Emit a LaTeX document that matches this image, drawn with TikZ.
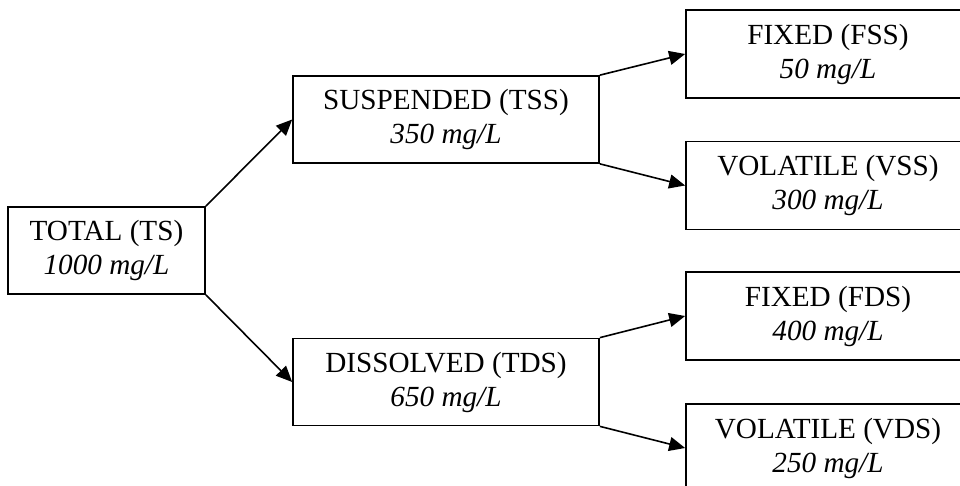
\documentclass[tikz,border=0pt]{standalone}
\usepackage{fontspec}
\setmainfont{Liberation Serif}
\usetikzlibrary{arrows.meta}
\tikzset{
  solidbox/.style={draw, line width=0.85pt, inner sep=0pt, align=center,
    font=\fontsize{14.6}{17}\selectfont},
  leftbox/.style={solidbox, minimum width=98.5pt, minimum height=43.5pt},
  midbox/.style={solidbox, minimum width=153pt, minimum height=43.5pt},
  rightbox/.style={solidbox, minimum width=142pt, minimum height=44pt},
  flow/.style={line width=0.8pt, -{Triangle[length=8pt, width=7pt]}}
}
\begin{document}
\begin{tikzpicture}[x=0.5pt, y=-0.5pt]
  \useasboundingbox (0,0) rectangle (960,486);
  \clip (0,0) rectangle (960,486);

  % solids breakdown
  \node[leftbox]  (ts)  at (106.5,250.5) {TOTAL (TS)\\\textit{1000 mg/L}};
  \node[midbox]   (tss) at (446,119.5)   {SUSPENDED (TSS)\\\textit{350 mg/L}};
  \node[midbox]   (tds) at (446,382)     {DISSOLVED (TDS)\\\textit{650 mg/L}};
  \node[rightbox] (fss) at (828,54)      {FIXED (FSS)\\\textit{50 mg/L}};
  \node[rightbox] (vss) at (828,185.5)   {VOLATILE (VSS)\\\textit{300 mg/L}};
  \node[rightbox] (fds) at (828,316)     {FIXED (FDS)\\\textit{400 mg/L}};
  \node[rightbox] (vds) at (828,448)     {VOLATILE (VDS)\\\textit{250 mg/L}};

  % connectors from box corners
  \draw[flow] (ts.north east)  -- (tss.west);
  \draw[flow] (ts.south east)  -- (tds.west);
  \draw[flow] (tss.north east) -- (fss.west);
  \draw[flow] (tss.south east) -- (vss.west);
  \draw[flow] (tds.north east) -- (fds.west);
  \draw[flow] (tds.south east) -- (vds.west);
\end{tikzpicture}
\end{document}
